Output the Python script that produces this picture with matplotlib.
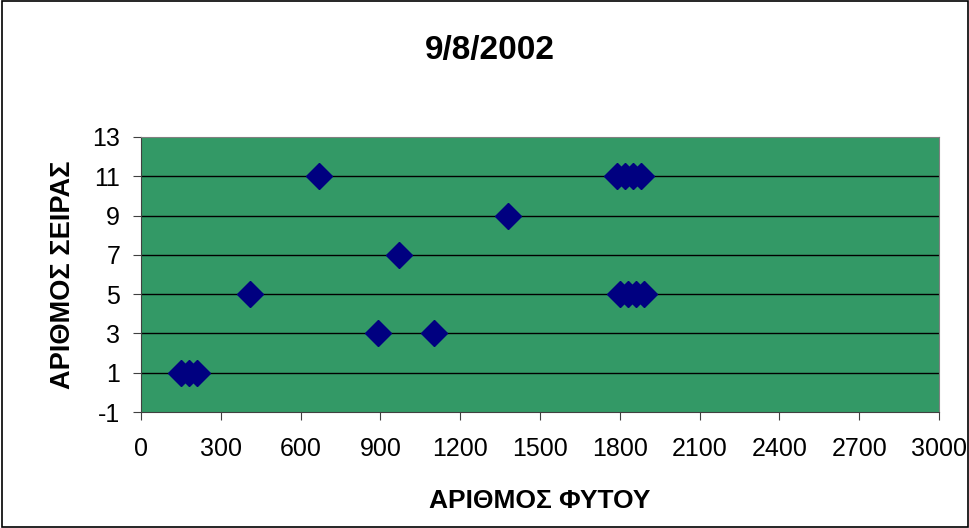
import numpy as np
import matplotlib.pyplot as plt
from matplotlib.patches import Rectangle

plt.rcParams['font.family'] = ['Liberation Sans', 'DejaVu Sans']
plt.rcParams['axes.unicode_minus'] = False

# plant number (x) and row number (y)
plant_no = [150, 180, 210, 410, 670, 890, 970, 1100, 1380,
            1790, 1820, 1850, 1880, 1800, 1830, 1860, 1890]
row_no = [1, 1, 1, 5, 11, 3, 7, 3, 9,
          11, 11, 11, 11, 5, 5, 5, 5]
x_ticks = np.arange(0, 3001, 300)
y_ticks = np.arange(-1, 14, 2)

fig = plt.figure(figsize=(9.7, 5.28), dpi=100)
ax = fig.add_axes([141/970, 1 - 412/528, 798/970, 275/528])
ax.set_facecolor('#339966')

for y in y_ticks[1:-1]:
    ax.axhline(y, color='black', lw=1, zorder=1)

ax.plot(plant_no, row_no, linestyle='none', marker='D', markersize=13,
        color='#000080', zorder=3)

ax.set_xlim(0, 3000)
ax.set_ylim(-1, 13)
ax.set_xticks(x_ticks)
ax.set_yticks(y_ticks)
ax.tick_params(direction='out', length=6, labelsize=18, color='#404040')
ax.tick_params(axis='x', pad=12)
ax.tick_params(axis='y', pad=9)
for s in ax.spines.values():
    s.set_color('#808080')
for s in ['left', 'bottom']:
    ax.spines[s].set_color('#404040')

ax.set_xlabel('ΑΡΙΘΜΟΣ ΦΥΤΟΥ', fontsize=19, fontweight='bold', labelpad=20)
ax.set_ylabel('ΑΡΙΘΜΟΣ ΣΕΙΡΑΣ', fontsize=19.5, fontweight='bold', labelpad=12)
fig.text(0.505, 1 - 50/528, '9/8/2002', fontsize=24, fontweight='bold',
         ha='center', va='center')

fig.patches.append(Rectangle((0.002, 0.002), 0.996, 0.996, transform=fig.transFigure,
                             fill=False, edgecolor='black', lw=1.2))

fig.savefig('out.png', dpi=100)
